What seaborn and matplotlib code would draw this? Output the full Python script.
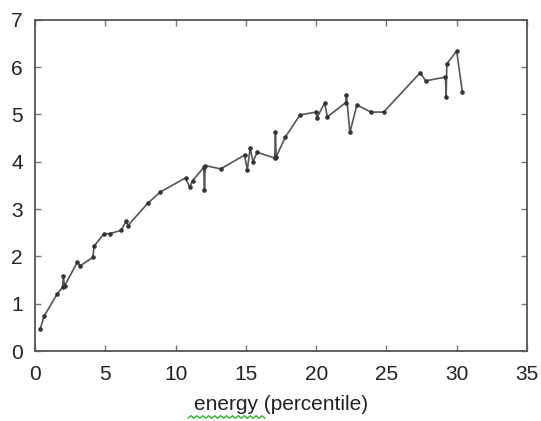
import numpy as np
import pandas as pd
import matplotlib
matplotlib.use("Agg")
import matplotlib.pyplot as plt
import seaborn as sns

# values (in plotting order)
energy = [0.36, 0.64, 1.55, 1.95, 2.0, 2.1, 3.0, 3.2, 4.1, 4.2, 4.9, 5.3,
          6.1, 6.5, 6.6, 8.0, 8.9, 10.7, 11.0, 11.2, 12.0, 12.05, 12.1,
          13.2, 13.2, 14.9, 15.1, 15.3, 15.5, 15.8, 17.05, 17.1, 17.15,
          17.8, 18.85, 20.0, 20.05, 20.6, 20.8, 22.1, 22.15, 22.4, 22.9,
          23.9, 24.8, 27.4, 27.8, 29.2, 29.25, 29.3, 30.0, 30.4]
value = [0.47, 0.74, 1.2, 1.35, 1.58, 1.38, 1.88, 1.8, 1.98, 2.22, 2.48, 2.48,
         2.55, 2.75, 2.65, 3.12, 3.36, 3.66, 3.46, 3.6, 3.88, 3.4, 3.92,
         3.92, 3.78, 4.14, 3.83, 4.29, 4.0, 4.2, 4.08, 4.62, 4.1,
         4.52, 4.99, 5.05, 4.93, 5.24, 4.95, 5.25, 5.42, 4.62, 5.2,
         5.05, 5.05, 5.88, 5.71, 5.79, 5.37, 6.07, 6.34, 5.48]

df = pd.DataFrame({"energy": energy, "value": value})

sns.set_style("ticks")
plt.rcParams["font.family"] = ["Liberation Sans", "DejaVu Sans"]

fig = plt.figure(figsize=(5.41, 4.21), dpi=100)
ax = fig.add_axes([0.065, 0.166, 0.909, 0.787])

sns.lineplot(data=df, x="energy", y="value", sort=False, ax=ax,
             color="#555555", linewidth=1.2, marker="o", markersize=2.5,
             markeredgecolor="#333333", markerfacecolor="#333333")

ax.set_xlim(0, 35)
ax.set_ylim(0, 7)
ax.set_xticks(range(0, 36, 5))
ax.set_yticks(range(0, 8))
ax.tick_params(direction="in", length=4, width=1, color="#777777",
               top=True, right=True, labelsize=15, labelcolor="#222222")
ax.tick_params(axis="x", pad=10)
ax.tick_params(axis="y", pad=9)
for s in ax.spines.values():
    s.set_color("#555555")
    s.set_linewidth(1.3)
ax.set_xlabel("energy (percentile)", fontsize=15, color="#222222", labelpad=8)
ax.set_ylabel("")

# green spell-check squiggle under "energy"
n = 27
xs = np.linspace(188, 265, n) / 541
ys = 1 - (417 + np.where(np.arange(n) % 2 == 0, 1.3, -1.3)) / 421
fig.lines.append(plt.Line2D(xs, ys, transform=fig.transFigure,
                            color="#22aa22", linewidth=0.9))

fig.savefig("out.png", dpi=100)
